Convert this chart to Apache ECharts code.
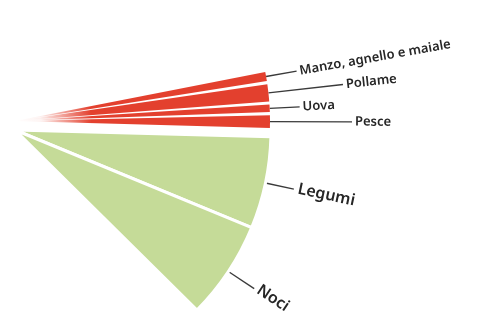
<!DOCTYPE html>
<html>
<head>
<meta charset="utf-8">
<script src="https://cdn.jsdelivr.net/npm/echarts@6/dist/echarts.min.js"></script>
<style>
  html, body { margin: 0; padding: 0; background: #fff; }
  #chart { width: 480px; height: 316px; }
</style>
</head>
<body>
<div id="chart"></div>
<script>
// proteine animali (spicchi rossi), ampiezza in gradi
const redNames = ['Manzo, agnello e maiale', 'Pollame', 'Uova', 'Pesce'];
const redValues = [2.8, 4.6, 2.4, 3.6];
// proteine vegetali (spicchi verdi)
const greenNames = ['Legumi', 'Noci'];
const greenValues = [20.9, 22.3];

const sum = arr => arr.reduce((a, b) => a + b, 0);
const redStart = 11.45;
const greenStart = -1.5;
const redLineLen = [31, 75, 30, 82];
const greenLineLen = [29, 31];

const red = '#e3402e';
const green = '#c5db98';

const chart = echarts.init(document.getElementById('chart'));

const option = {
  backgroundColor: '#fff',
  animation: false,
  series: [
    {
      name: 'animali',
      type: 'pie',
      center: [15, 121],
      radius: [0, 255],
      startAngle: redStart,
      endAngle: redStart - sum(redValues),
      padAngle: 0.7,
      avoidLabelOverlap: false,
      silent: true,
      itemStyle: {
        color: {
          type: 'radial', x: 15, y: 121, r: 255, global: true,
          colorStops: [
            { offset: 0, color: 'rgba(227,64,46,0)' },
            { offset: 0.1, color: 'rgba(227,64,46,0.08)' },
            { offset: 0.3, color: 'rgba(227,64,46,1)' },
            { offset: 1, color: red }
          ]
        }
      },
      label: {
        show: true,
        position: 'outside',
        formatter: '{b}',
        rotate: 'radial',
        color: '#262626',
        fontFamily: 'Noto Sans',
        fontWeight: 600,
        fontSize: 13,
        distanceToLabelLine: 3
      },
      labelLine: {
        show: true,
        length2: 0,
        lineStyle: { color: '#3a3a3a', width: 1.3 }
      },
      data: redNames.map((n, i) => ({
        name: n,
        value: redValues[i],
        labelLine: { length: redLineLen[i] }
      }))
    },
    {
      name: 'vegetali',
      type: 'pie',
      center: [15, 130],
      radius: [0, 256],
      startAngle: greenStart,
      endAngle: greenStart - sum(greenValues),
      avoidLabelOverlap: false,
      silent: true,
      itemStyle: {
        color: green,
        borderColor: '#fff',
        borderWidth: 3
      },
      label: {
        show: true,
        position: 'outside',
        formatter: '{b}',
        rotate: 'radial',
        color: '#262626',
        fontFamily: 'Noto Sans',
        fontWeight: 600,
        fontSize: 16,
        distanceToLabelLine: 4
      },
      labelLine: {
        show: true,
        length2: 0,
        lineStyle: { color: '#3a3a3a', width: 1.3 }
      },
      data: greenNames.map((n, i) => ({
        name: n,
        value: greenValues[i],
        labelLine: { length: greenLineLen[i] }
      }))
    }
  ]
};

chart.setOption(option);
</script>
</body>
</html>
